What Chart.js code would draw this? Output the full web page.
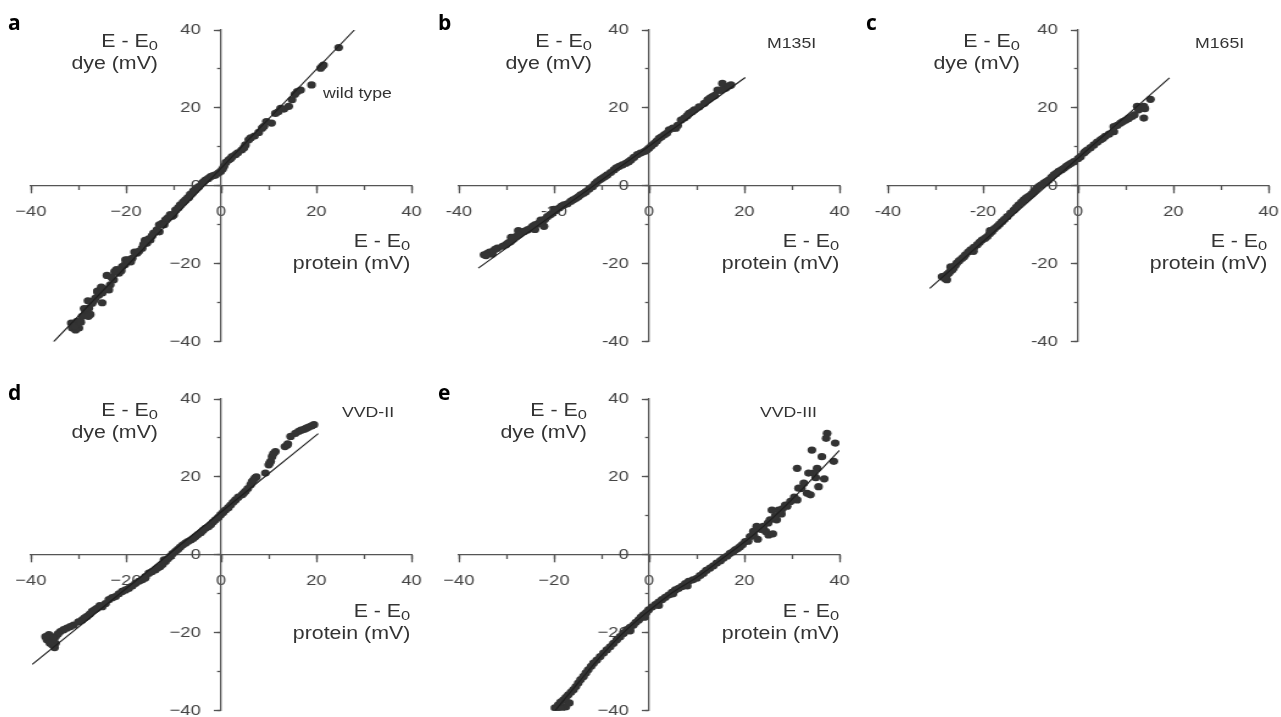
<!DOCTYPE html>
<html>
<head>
<meta charset="utf-8">
<script src="https://cdn.jsdelivr.net/npm/chart.js@4.4.1/dist/chart.umd.min.js"></script>
<style>
html, body { margin: 0; padding: 0; background: #fff; overflow: hidden; }
#wrap { position: relative; width: 1281px; height: 717px; overflow: hidden; }
canvas { position: absolute; transform: scaleX(1.22); transform-origin: 0 0; }
.t { position: absolute; font-family: "Liberation Sans", Arial, sans-serif; color: #333; white-space: nowrap; transform: scaleX(1.22); }
.r { transform-origin: 100% 0; text-align: right; }
.l { transform-origin: 0 0; }
.ax { font-size: 17.5px; line-height: 20px; }
.tag { font-size: 14.5px; line-height: 18px; }
.s { font-size: 13.5px; position: relative; top: 3px; }
.lt { position: absolute; font-family: "Open Sans", sans-serif; font-weight: 700; font-size: 21px; line-height: 24px; color: #000; }
</style>
</head>
<body>
<div id="wrap">
  <canvas id="pa" width="370" height="369" style="left:-7.5px;top:0px;width:370px;height:369px"></canvas>
  <canvas id="pb" width="370" height="369" style="left:420.5px;top:0px;width:370px;height:369px"></canvas>
  <canvas id="pc" width="370" height="369" style="left:849.5px;top:0px;width:370px;height:369px"></canvas>
  <canvas id="pd" width="370" height="369" style="left:-7.5px;top:369px;width:370px;height:369px"></canvas>
  <canvas id="pe" width="370" height="369" style="left:421.2px;top:369px;width:370px;height:369px"></canvas>

  <div class="lt" style="left:8px;top:10px">a</div>
  <div class="lt" style="left:438px;top:10px">b</div>
  <div class="lt" style="left:866px;top:10px">c</div>
  <div class="lt" style="left:8px;top:380px">d</div>
  <div class="lt" style="left:438px;top:380px">e</div>

  <div class="t r ax" style="right:1123px;top:31px">E - E<span class="s">0</span><br>dye (mV)</div>
  <div class="t r ax" style="right:871px;top:231px">E - E<span class="s">0</span><br>protein (mV)</div>
  <div class="t l tag" style="left:323px;top:84px">wild type</div>

  <div class="t r ax" style="right:689px;top:31px">E - E<span class="s">0</span><br>dye (mV)</div>
  <div class="t r ax" style="right:442px;top:231px">E - E<span class="s">0</span><br>protein (mV)</div>
  <div class="t l tag" style="left:767px;top:34px">M135I</div>

  <div class="t r ax" style="right:261px;top:31px">E - E<span class="s">0</span><br>dye (mV)</div>
  <div class="t r ax" style="right:14px;top:231px">E - E<span class="s">0</span><br>protein (mV)</div>
  <div class="t l tag" style="left:1195px;top:34px">M165I</div>

  <div class="t r ax" style="right:1123px;top:400px">E - E<span class="s">0</span><br>dye (mV)</div>
  <div class="t r ax" style="right:871px;top:601px">E - E<span class="s">0</span><br>protein (mV)</div>
  <div class="t l tag" style="left:342px;top:403px">VVD-II</div>

  <div class="t r ax" style="right:694px;top:400px">E - E<span class="s">0</span><br>dye (mV)</div>
  <div class="t r ax" style="right:442px;top:601px">E - E<span class="s">0</span><br>protein (mV)</div>
  <div class="t l tag" style="left:760px;top:403px">VVD-III</div>
</div>

<script>
// tick labels (panels a, d, e use a true minus sign, b and c a hyphen)
const TICKS_MINUS = ['\u221240', '\u221220', '0', '20', '40'];
const TICKS_HYPHEN = ['-40', '-20', '0', '20', '40'];

// a - wild type
const A_X = [24.7, 21.2, 20.9, 19.0, 16.0, 16.7, 14.9, 14.2, 13.2, 12.5, 11.4, 9.5, 10.6, 7.9, 8.6, 5.8, 5.1, 4.3, 3.0, 2.3,
  1.6, 0.6, -0.1, -1.2, -2.2, -3.3, -4.0, -4.7, -5.4, -6.1, -7.5, -8.6, -9.6, -10.7, -11.7, -12.4, -13.5, -14.2, -14.9, -15.6,
  -16.6, -17.7, -18.7, -20.1, -20.8, -21.5, -22.6, -23.3, -23.6, -25.0, -25.7, -26.4, -27.1, -27.8, -28.5, -29.2, -30.3, -31.0,
  -31.3, -29.9, -30.6, -22.0, -24.0, -19.0, -16.0, -13.0, -26.0, -28.0, -27.5, -25.0, -10.0, -6.8,
  -31.5, -30.8, -29.5, -28.8, -27.9, -26.8, -26.0, -25.2, -24.3, -23.0, -22.4, -21.0, -20.2, -19.6, -18.2, -17.3, -16.3, -15.2,
  -14.5, -13.0, -12.0, -11.2, -10.3, -9.0, -8.0, -7.0, -6.5, -5.8, -5.0, -3.7, -2.7, -1.7, -0.6, 0.3, 1.0, 2.0, 3.5, 4.8,
  6.2, 7.0, 9.0, 12.0, 15.5, 21.5];
const A_Y = [35.5, 30.6, 30.2, 25.9, 24.2, 24.6, 22.1, 20.4, 19.7, 19.9, 18.6, 16.5, 16.1, 13.7, 14.8, 11.8, 10.5, 9.2, 8.0, 7.5,
  6.7, 5.0, 3.7, 2.8, 2.4, 1.5, 0.7, -0.2, -1.0, -1.9, -3.6, -4.9, -6.2, -7.4, -8.7, -9.6, -11.3, -12.1, -13.9, -14.7,
  -16.0, -17.3, -18.6, -19.0, -20.7, -22.4, -24.1, -25.4, -26.7, -27.5, -28.0, -28.8, -30.1, -31.4, -32.3, -33.5, -34.8, -35.7,
  -36.5, -36.5, -37.0, -21.5, -23.0, -19.5, -14.0, -10.0, -27.0, -29.5, -33.0, -30.0, -7.5, -3.0,
  -35.2, -36.0, -35.0, -31.5, -33.5, -29.5, -27.2, -26.0, -26.5, -23.5, -22.0, -21.8, -20.2, -19.0, -17.0, -16.8, -15.0, -13.6,
  -12.8, -11.8, -10.0, -8.2, -7.8, -5.6, -4.2, -3.0, -2.2, -1.3, -0.5, 1.0, 1.9, 2.6, 3.3, 4.3, 6.0, 7.0, 8.5, 9.8,
  12.3, 12.8, 15.3, 19.0, 23.5, 31.0];
const A_FIT_X = [-35.2, 28.0];
const A_FIT_Y = [-40, 40];

// b - M135I
const B_X = [17.2, 16.1, 15.4, 14.4, 13.3, 12.3, 11.6, 9.5, 8.4, 7.4, 6.7, 5.6, 4.2, 3.2, 2.1, 1.1, 0.0, -1.0, -2.5, -3.8,
  -4.9, -6.3, -7.4, -8.8, -9.8, -10.9, -11.9, -13.3, -14.4, -15.4, -16.5, -17.9, -18.9, -20.3, -21.4, -22.4, -23.5, -24.5,
  -25.6, -27.0, -28.0, -29.1, -30.1, -31.9, -32.9, -34.0, -34.7, -33.0, -27.5, -22.1, -20.0,
  16.8, 15.0, 13.8, 12.8, 10.5, 9.0, 8.0, 6.0, 5.0, 3.7, 2.6, 1.6, 0.5, -0.5, -1.8, -3.2, -4.3, -5.6, -6.9, -8.1,
  -9.3, -10.3, -11.4, -12.6, -13.8, -14.9, -16.0, -17.2, -18.4, -19.6, -20.8, -21.9, -23.0, -24.0, -25.0, -26.3, -27.4,
  -28.6, -29.6, -30.8, -32.4, -33.5, -34.3, -29.0, -24.0, -22.8];
const B_Y = [25.9, 25.1, 26.3, 24.6, 22.9, 22.1, 21.2, 19.5, 18.6, 17.4, 16.9, 14.8, 14.4, 13.1, 12.2, 10.9, 9.7, 8.8, 8.0, 6.7,
  5.8, 5.0, 4.1, 2.8, 2.0, 1.1, -0.2, -1.5, -2.3, -3.2, -4.0, -4.9, -5.7, -7.0, -7.9, -9.2, -9.8, -10.4,
  -11.3, -12.1, -13.0, -14.3, -15.1, -16.0, -16.9, -17.3, -17.7, -17.5, -11.5, -10.4, -6.0,
  25.6, 24.5, 23.2, 22.5, 20.3, 19.0, 18.0, 15.5, 14.8, 13.5, 12.6, 11.5, 10.3, 9.2, 8.4, 7.3, 6.2, 5.4, 4.6, 3.4,
  2.4, 1.6, 0.5, -0.8, -1.9, -2.8, -3.6, -4.6, -5.2, -6.3, -7.4, -8.6, -9.5, -10.0, -11.0, -11.7, -12.5,
  -13.7, -14.6, -15.5, -16.3, -17.0, -17.9, -13.2, -11.2, -8.8];
const B_FIT_X = [-35.9, 20.2];
const B_FIT_Y = [-21.1, 27.8];

// c - M165I
const C_X = [15.2, 13.8, 13.8, 12.7, 12.4, 11.3, 10.0, 8.9, 7.5, 7.5, 5.7, 4.7, 3.3, 1.9, 1.2, 0.5, -0.9, -2.0, -3.0, -4.1,
  -5.1, -6.2, -7.2, -8.3, -9.3, -10.4, -11.4, -12.5, -13.5, -14.9, -16.0, -17.0, -18.1, -19.1, -20.2, -21.2, -22.6, -23.7,
  -24.4, -25.5, -26.2, -26.9, -27.6, -28.6, -27.6, -28.3,
  14.0, 11.8, 10.6, 9.4, 8.2, 6.5, 5.2, 4.0, 2.6, 1.5, 0.0, -1.5, -2.5, -3.5, -4.6, -5.6, -6.7, -7.8, -8.8, -9.8,
  -10.9, -11.9, -13.0, -14.2, -15.5, -16.5, -17.6, -18.6, -19.6, -20.7, -21.9, -23.1, -24.0, -25.0, -25.8, -26.5, -27.2,
  -28.0, -26.8, -22.0, -18.5];
const C_Y = [22.2, 20.4, 17.4, 19.5, 20.4, 17.8, 16.9, 16.1, 15.2, 13.9, 12.7, 11.8, 10.5, 9.2, 8.4, 7.5, 6.2, 5.4, 4.5, 3.7,
  2.8, 1.5, 0.7, -0.2, -1.5, -2.7, -3.6, -4.9, -6.2, -7.9, -9.2, -10.4, -11.7, -13.0, -13.9, -15.1, -16.4, -17.7,
  -18.6, -19.8, -21.1, -22.0, -22.8, -23.3, -24.1, -23.3,
  19.8, 18.2, 17.3, 16.5, 15.5, 13.3, 12.2, 11.2, 9.8, 8.8, 7.0, 5.8, 5.0, 4.1, 3.2, 2.2, 1.1, 0.2, -0.8, -2.1,
  -3.1, -4.2, -5.5, -7.0, -8.6, -9.8, -11.0, -12.3, -13.5, -14.5, -15.8, -17.0, -18.2, -19.2, -20.4, -21.6, -22.4,
  -23.8, -20.8, -16.8, -11.5];
const C_FIT_X = [-31.2, 19.2];
const C_FIT_Y = [-26.3, 27.7];

// d - VVD-II
const D_X = [19.5, 18.4, 17.4, 16.3, 15.6, 14.6, 13.9, 13.4, 11.4, 10.7, 10.4, 10.0, 9.3, 7.1, 6.5, 6.2, 5.1, 4.4, 3.0, 2.0,
  0.9, -0.1, -1.2, -2.2, -3.3, -4.3, -5.4, -6.4, -7.5, -8.6, -9.6, -10.7, -11.7, -12.8, -13.8, -15.2, -16.6, -18.0, -19.4,
  -20.8, -22.2, -23.6, -25.0, -26.1, -27.1, -28.2, -29.2, -31.0, -32.4, -33.8, -34.8, -35.9, -36.6, -35.5, -36.2, -34.8,
  19.0, 17.9, 16.8, 14.0, 11.0, 10.2, 7.4, 6.8, 5.6, 4.7, 3.6, 2.5, 1.5, 0.4, -0.6, -1.7, -2.7, -3.8, -4.9, -5.9,
  -7.0, -8.1, -9.1, -10.2, -11.2, -12.3, -13.3, -14.5, -15.9, -17.3, -18.7, -20.1, -21.5, -22.9, -24.3, -25.5, -26.6,
  -27.6, -28.7, -30.0, -31.7, -33.1, -34.3, -35.3, -36.0, -35.0, -36.9, -12.0, -16.0];
const D_Y = [33.4, 32.8, 32.2, 31.7, 31.2, 30.4, 28.2, 27.8, 26.5, 25.2, 24.0, 23.1, 21.0, 19.7, 18.8, 18.0, 16.3, 15.4, 14.1, 12.8,
  11.5, 10.3, 9.0, 7.7, 6.8, 5.7, 4.7, 3.8, 3.0, 2.0, 0.9, -0.4, -1.7, -3.0, -3.8, -4.7, -6.4, -7.3, -8.6,
  -9.4, -10.7, -11.5, -13.3, -13.7, -14.5, -15.8, -16.7, -18.0, -18.8, -19.7, -21.0, -21.8, -21.8, -23.1, -20.5, -22.7,
  33.1, 32.5, 32.0, 28.5, 26.0, 23.6, 20.0, 19.2, 17.0, 15.8, 14.8, 13.5, 12.1, 10.9, 9.6, 8.4, 7.2, 6.3, 5.2, 4.2,
  3.4, 2.5, 1.4, 0.3, -1.0, -2.4, -3.3, -4.3, -5.6, -6.8, -8.0, -9.0, -10.0, -11.0, -12.5, -13.0, -14.1,
  -15.2, -16.2, -17.2, -18.4, -19.2, -20.3, -21.3, -22.6, -23.8, -21.0, -1.3, -6.0];
const D_FIT_X = [-39.7, 20.4];
const D_FIT_Y = [-28.1, 31.1];

// e - VVD-III
const E_X = [37.4, 37.2, 39.1, 36.3, 34.2, 38.8, 31.1, 35.3, 34.6, 33.5, 32.5, 31.4, 33.2, 35.6, 33.9, 31.1, 29.7, 28.6, 27.2,
  25.8, 26.8, 25.4, 24.0, 22.6, 21.9, 25.1, 21.2, 20.2, 19.1, 18.1, 17.0, 15.6, 14.2, 12.8, 11.4, 10.0, 8.3, 6.9, 5.5,
  4.1, 2.7, 1.3, -0.1, -1.2, -2.2, -3.3, -4.7, -6.1, -7.5, -8.9, -10.3, -11.7, -12.8, -13.8, -14.9, -15.9, -17.0, -18.0,
  -19.1, -19.8, -17.5,
  36.8, 35.0, 32.0, 30.5, 29.0, 28.0, 27.8, 26.5, 25.0, 24.5, 23.5, 22.0, 20.8, 19.6, 18.6, 17.6, 16.4, 15.0, 13.5, 12.0,
  10.7, 9.2, 7.6, 6.2, 4.8, 3.4, 2.0, 0.6, -0.6, -1.7, -2.8, -4.0, -5.4, -6.8, -8.2, -9.6, -11.0, -12.2, -13.3, -14.4,
  -15.4, -16.4, -17.5, -18.6, -19.4, -16.8, -18.5, 8.0, 5.0, 2.0, -1.0, -4.0, 22.8, 26.0];
const E_Y = [31.2, 29.9, 28.7, 25.2, 26.9, 24.0, 22.2, 22.2, 21.0, 21.0, 18.4, 17.1, 15.8, 17.5, 15.4, 14.1, 13.7, 12.8, 11.5,
  11.5, 9.0, 9.0, 7.3, 7.3, 6.0, 5.1, 4.7, 3.4, 2.1, 1.3, 0.4, -0.9, -2.1, -3.4, -4.7, -6.0, -6.8, -8.1, -9.0,
  -10.3, -11.5, -12.8, -14.1, -15.4, -16.7, -18.0, -19.2, -21.0, -22.7, -24.4, -26.1, -27.8, -29.5, -31.2, -32.9, -34.6, -35.9, -37.2,
  -38.5, -39.3, -39.0,
  19.5, 19.8, 17.0, 14.8, 12.5, 11.8, 10.5, 10.0, 8.2, 6.0, 6.5, 5.0, 3.5, 2.6, 1.6, 0.8, -0.3, -1.5, -2.8, -4.0,
  -5.3, -6.4, -7.4, -8.6, -9.6, -10.9, -12.1, -13.4, -14.8, -16.0, -17.3, -18.6, -20.1, -21.8, -23.6, -25.2, -27.0, -28.6, -30.3, -32.0,
  -33.8, -35.2, -36.6, -37.8, -39.5, -38.0, -39.6, -8.0, -10.0, -13.0, -16.0, -19.5, 4.0, 5.4];
// fitted curve for e, read along the middle of the band
const E_FIT_X = [-19.8, -15, -10, -5, 0, 5, 10, 16, 22, 28, 34, 40];
const E_FIT_Y = [-40, -33, -25.8, -19.5, -14.3, -9.6, -5.8, -0.4, 5.2, 11.8, 19.2, 26.8];

const AXIS_GREY = '#555';
const TICK_FONT = { family: 'Liberation Sans', size: 15 };

function axisScale(pos, step, len, labels, showLine) {
  return {
    type: 'linear',
    position: pos,
    min: -40,
    max: 40,
    ticks: {
      stepSize: step,
      padding: 10,
      color: '#444',
      font: TICK_FONT,
      callback: (v, i) => labels ? labels[i] : ''
    },
    grid: { display: len > 0, drawOnChartArea: false, tickLength: len, tickColor: AXIS_GREY, tickWidth: 1.3 },
    border: { display: showLine, color: AXIS_GREY, width: 1.3 }
  };
}

function drawPanel(id, xs, ys, fitX, fitY, labels) {
  const points = xs.map((x, i) => ({ x: x, y: ys[i] }));
  const fit = fitX.map((x, i) => ({ x: x, y: fitY[i] }));
  new Chart(document.getElementById(id), {
    type: 'scatter',
    data: {
      datasets: [
        { type: 'line', data: fit, borderColor: '#1e1e1e', borderWidth: 1.1, pointRadius: 0, fill: false,
          cubicInterpolationMode: 'monotone' },
        { data: points, backgroundColor: '#333', pointRadius: 3.6, borderWidth: 0 }
      ]
    },
    options: {
      responsive: false,
      animation: false,
      devicePixelRatio: 1,
      layout: { padding: { left: 31, right: 27, top: 30, bottom: 27.3 } },
      plugins: { legend: { display: false }, tooltip: { enabled: false } },
      scales: {
        x: axisScale({ y: 0 }, 20, 7, labels, true),
        x2: axisScale({ y: 0 }, 10, 4, null, false),
        y: axisScale({ x: 0 }, 20, 5, null, true),
        y2: axisScale({ x: 0 }, 10, 3.3, null, false),
        // y tick labels sit left of the vertical axis
        ylab: Object.assign(axisScale({ x: -4.3 }, 20, 0, labels, false), { axis: 'y' })
      }
    }
  });
}

drawPanel('pa', A_X, A_Y, A_FIT_X, A_FIT_Y, TICKS_MINUS);
drawPanel('pb', B_X, B_Y, B_FIT_X, B_FIT_Y, TICKS_HYPHEN);
drawPanel('pc', C_X, C_Y, C_FIT_X, C_FIT_Y, TICKS_HYPHEN);
drawPanel('pd', D_X, D_Y, D_FIT_X, D_FIT_Y, TICKS_MINUS);
drawPanel('pe', E_X, E_Y, E_FIT_X, E_FIT_Y, TICKS_MINUS);
</script>
</body>
</html>
